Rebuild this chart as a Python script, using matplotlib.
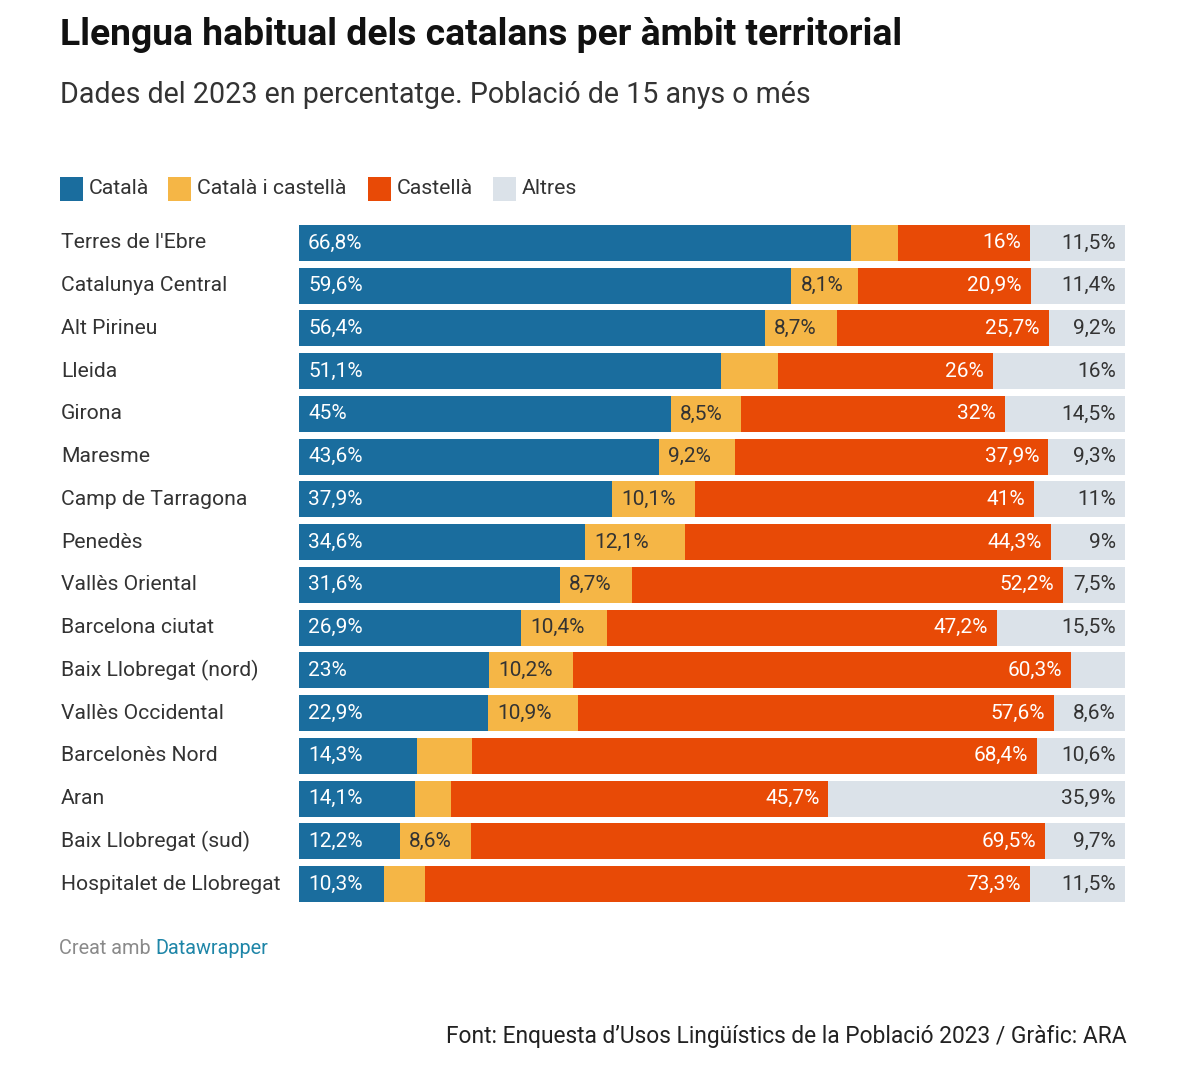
import matplotlib.pyplot as plt
from matplotlib.patches import Rectangle

plt.rcParams['font.family'] = ['Roboto', 'DejaVu Sans']

# dades (percentatges); els segments sense etiqueta s'han estimat com a resta fins a 100
ambits = ["Terres de l'Ebre", 'Catalunya Central', 'Alt Pirineu', 'Lleida', 'Girona',
          'Maresme', 'Camp de Tarragona', 'Penedès', 'Vallès Oriental', 'Barcelona ciutat',
          'Baix Llobregat (nord)', 'Vallès Occidental', 'Barcelonès Nord', 'Aran',
          'Baix Llobregat (sud)', 'Hospitalet de Llobregat']
catala = [66.8, 59.6, 56.4, 51.1, 45, 43.6, 37.9, 34.6, 31.6, 26.9, 23, 22.9, 14.3, 14.1, 12.2, 10.3]
cat_cast = [5.7, 8.1, 8.7, 6.9, 8.5, 9.2, 10.1, 12.1, 8.7, 10.4, 10.2, 10.9, 6.7, 4.3, 8.6, 4.9]
castella = [16, 20.9, 25.7, 26, 32, 37.9, 41, 44.3, 52.2, 47.2, 60.3, 57.6, 68.4, 45.7, 69.5, 73.3]
altres = [11.5, 11.4, 9.2, 16, 14.5, 9.3, 11, 9, 7.5, 15.5, 6.5, 8.6, 10.6, 35.9, 9.7, 11.5]

series = ['Català', 'Català i castellà', 'Castellà', 'Altres']
colors = ['#1a6d9e', '#f5b646', '#e84a06', '#dbe2e9']

def fmt(v):
    return f'{v:g}'.replace('.', ',') + '%'

fig = plt.figure(figsize=(12, 10.69), dpi=100)
ax = fig.add_axes([299 / 1200, 1 - 905.4 / 1069, 826 / 1200, (905.4 - 221.6) / 1069])

y = list(range(len(ambits)))
left = [0] * len(ambits)
dades = [catala, cat_cast, castella, altres]
for vals, col, nom in zip(dades, colors, series):
    ax.barh(y, vals, left=left, color=col, height=0.84, linewidth=0, label=nom)
    left = [l + v for l, v in zip(left, vals)]

off = 1.1  # ~9 px en unitats de percentatge
fs = 15
for i in y:
    ax.text(off, i, fmt(catala[i]), color='white', fontsize=fs, va='center', ha='left')
    if cat_cast[i] >= 7:
        ax.text(catala[i] + off, i, fmt(cat_cast[i]), color='#333333', fontsize=fs,
                va='center', ha='left')
    fi = catala[i] + cat_cast[i] + castella[i]
    ax.text(fi - off, i, fmt(castella[i]), color='white', fontsize=fs, va='center', ha='right')
    if altres[i] >= 7:
        ax.text(100 - off, i, fmt(altres[i]), color='#333333', fontsize=fs,
                va='center', ha='right')
    ax.text(-28.8, i, ambits[i], color='#333333', fontsize=15.2, va='center', ha='left')

ax.set_xlim(0, 100)
ax.set_ylim(len(ambits) - 0.5, -0.5)
ax.axis('off')

# títols
fig.text(60 / 1200, 1 - 35 / 1069, 'Llengua habitual dels catalans per àmbit territorial',
         fontsize=26.8, fontweight='bold', color='#111111', va='center', ha='left')
fig.text(60 / 1200, 1 - 95 / 1069, 'Dades del 2023 en percentatge. Població de 15 anys o més',
         fontsize=20.6, color='#333333', va='center', ha='left')

# llegenda
leg_x = [60, 168, 368, 493]
for lx, col, nom in zip(leg_x, colors, series):
    fig.patches.append(Rectangle((lx / 1200, 1 - 201 / 1069), 23 / 1200, 24 / 1069,
                                 transform=fig.transFigure, color=col, linewidth=0))
    fig.text((lx + 29) / 1200, 1 - 189 / 1069, nom, fontsize=15.3, color='#333333',
             va='center', ha='left')

# peu
t = fig.text(59 / 1200, 1 - 949 / 1069, 'Creat amb ', fontsize=14.3, color='#8a8a8a',
             va='center', ha='left')
fig.canvas.draw()
bb = t.get_window_extent()
fig.text(bb.x1 / 1200, 1 - 949 / 1069, 'Datawrapper', fontsize=14.3, color='#1f86a8',
         va='center', ha='left')
fig.text(1127 / 1200, 1 - 1037 / 1069,
         'Font: Enquesta d\u2019Usos Lingüístics de la Població 2023 / Gràfic: ARA',
         fontsize=16.4, color='#222222', va='center', ha='right')

fig.savefig('out.png', dpi=100, facecolor='white')
